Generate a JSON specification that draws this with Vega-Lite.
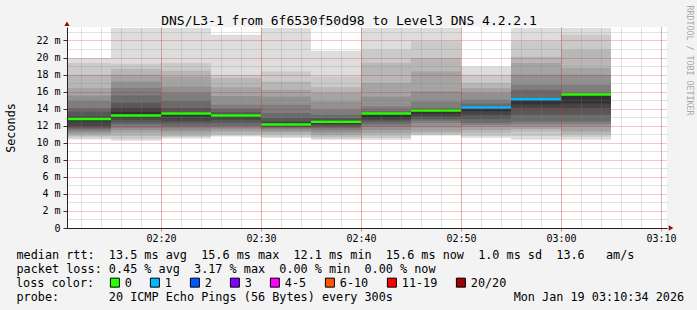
{
  "$schema": "https://vega.github.io/schema/vega-lite/v6.json",
  "width": 600,
  "height": 201,
  "autosize": {"type": "none"},
  "padding": {"left": 67, "top": 27, "right": 30, "bottom": 82},
  "background": "#f3f3f3",
  "config": {"view": {"fill": "#ffffff", "stroke": null}, "font": "DejaVu Sans Mono"},
  "datasets": {
    "smoke": [
      {"t0": "2026-01-19T02:10:00Z", "t1": "2026-01-19T02:15:00Z", "band": 1, "lo": 10.39, "hi": 19.94},
      {"t0": "2026-01-19T02:10:00Z", "t1": "2026-01-19T02:15:00Z", "band": 2, "lo": 10.6, "hi": 19.35},
      {"t0": "2026-01-19T02:10:00Z", "t1": "2026-01-19T02:15:00Z", "band": 3, "lo": 10.79, "hi": 17.98},
      {"t0": "2026-01-19T02:10:00Z", "t1": "2026-01-19T02:15:00Z", "band": 4, "lo": 11.0, "hi": 16.42},
      {"t0": "2026-01-19T02:10:00Z", "t1": "2026-01-19T02:15:00Z", "band": 5, "lo": 11.17, "hi": 15.55},
      {"t0": "2026-01-19T02:10:00Z", "t1": "2026-01-19T02:15:00Z", "band": 6, "lo": 11.4, "hi": 14.93},
      {"t0": "2026-01-19T02:10:00Z", "t1": "2026-01-19T02:15:00Z", "band": 7, "lo": 11.6, "hi": 14.07},
      {"t0": "2026-01-19T02:10:00Z", "t1": "2026-01-19T02:15:00Z", "band": 8, "lo": 11.76, "hi": 13.68},
      {"t0": "2026-01-19T02:10:00Z", "t1": "2026-01-19T02:15:00Z", "band": 9, "lo": 12.0, "hi": 13.09},
      {"t0": "2026-01-19T02:10:00Z", "t1": "2026-01-19T02:15:00Z", "band": 10, "lo": 12.5, "hi": 12.95},

      {"t0": "2026-01-19T02:15:00Z", "t1": "2026-01-19T02:20:00Z", "band": 1, "lo": 10.25, "hi": 23.45},
      {"t0": "2026-01-19T02:15:00Z", "t1": "2026-01-19T02:20:00Z", "band": 2, "lo": 10.45, "hi": 19.27},
      {"t0": "2026-01-19T02:15:00Z", "t1": "2026-01-19T02:20:00Z", "band": 3, "lo": 10.79, "hi": 18.68},
      {"t0": "2026-01-19T02:15:00Z", "t1": "2026-01-19T02:20:00Z", "band": 4, "lo": 11.17, "hi": 17.98},
      {"t0": "2026-01-19T02:15:00Z", "t1": "2026-01-19T02:20:00Z", "band": 5, "lo": 11.5, "hi": 17.19},
      {"t0": "2026-01-19T02:15:00Z", "t1": "2026-01-19T02:20:00Z", "band": 6, "lo": 11.76, "hi": 16.42},
      {"t0": "2026-01-19T02:15:00Z", "t1": "2026-01-19T02:20:00Z", "band": 7, "lo": 12.1, "hi": 15.55},
      {"t0": "2026-01-19T02:15:00Z", "t1": "2026-01-19T02:20:00Z", "band": 8, "lo": 12.34, "hi": 14.66},
      {"t0": "2026-01-19T02:15:00Z", "t1": "2026-01-19T02:20:00Z", "band": 9, "lo": 12.7, "hi": 14.07},
      {"t0": "2026-01-19T02:15:00Z", "t1": "2026-01-19T02:20:00Z", "band": 10, "lo": 12.93, "hi": 13.6},

      {"t0": "2026-01-19T02:20:00Z", "t1": "2026-01-19T02:25:00Z", "band": 1, "lo": 10.5, "hi": 23.45},
      {"t0": "2026-01-19T02:20:00Z", "t1": "2026-01-19T02:25:00Z", "band": 2, "lo": 10.65, "hi": 19.35},
      {"t0": "2026-01-19T02:20:00Z", "t1": "2026-01-19T02:25:00Z", "band": 3, "lo": 10.79, "hi": 18.44},
      {"t0": "2026-01-19T02:20:00Z", "t1": "2026-01-19T02:25:00Z", "band": 4, "lo": 11.1, "hi": 17.78},
      {"t0": "2026-01-19T02:20:00Z", "t1": "2026-01-19T02:25:00Z", "band": 5, "lo": 11.38, "hi": 16.6},
      {"t0": "2026-01-19T02:20:00Z", "t1": "2026-01-19T02:25:00Z", "band": 6, "lo": 11.7, "hi": 15.83},
      {"t0": "2026-01-19T02:20:00Z", "t1": "2026-01-19T02:25:00Z", "band": 7, "lo": 11.96, "hi": 14.93},
      {"t0": "2026-01-19T02:20:00Z", "t1": "2026-01-19T02:25:00Z", "band": 8, "lo": 12.3, "hi": 14.07},
      {"t0": "2026-01-19T02:20:00Z", "t1": "2026-01-19T02:25:00Z", "band": 9, "lo": 12.55, "hi": 13.6},
      {"t0": "2026-01-19T02:20:00Z", "t1": "2026-01-19T02:25:00Z", "band": 10, "lo": 13.1, "hi": 13.52},

      {"t0": "2026-01-19T02:25:00Z", "t1": "2026-01-19T02:30:00Z", "band": 1, "lo": 10.74, "hi": 22.67},
      {"t0": "2026-01-19T02:25:00Z", "t1": "2026-01-19T02:30:00Z", "band": 2, "lo": 10.85, "hi": 17.98},
      {"t0": "2026-01-19T02:25:00Z", "t1": "2026-01-19T02:30:00Z", "band": 3, "lo": 11.0, "hi": 17.6},
      {"t0": "2026-01-19T02:25:00Z", "t1": "2026-01-19T02:30:00Z", "band": 4, "lo": 11.3, "hi": 16.5},
      {"t0": "2026-01-19T02:25:00Z", "t1": "2026-01-19T02:30:00Z", "band": 5, "lo": 11.56, "hi": 15.5},
      {"t0": "2026-01-19T02:25:00Z", "t1": "2026-01-19T02:30:00Z", "band": 6, "lo": 11.8, "hi": 14.46},
      {"t0": "2026-01-19T02:25:00Z", "t1": "2026-01-19T02:30:00Z", "band": 7, "lo": 12.0, "hi": 14.0},
      {"t0": "2026-01-19T02:25:00Z", "t1": "2026-01-19T02:30:00Z", "band": 8, "lo": 12.35, "hi": 13.6},
      {"t0": "2026-01-19T02:25:00Z", "t1": "2026-01-19T02:30:00Z", "band": 9, "lo": 12.7, "hi": 13.35},
      {"t0": "2026-01-19T02:25:00Z", "t1": "2026-01-19T02:30:00Z", "band": 10, "lo": 12.95, "hi": 13.3},

      {"t0": "2026-01-19T02:30:00Z", "t1": "2026-01-19T02:35:00Z", "band": 1, "lo": 10.55, "hi": 23.45},
      {"t0": "2026-01-19T02:30:00Z", "t1": "2026-01-19T02:35:00Z", "band": 2, "lo": 10.7, "hi": 18.37},
      {"t0": "2026-01-19T02:30:00Z", "t1": "2026-01-19T02:35:00Z", "band": 3, "lo": 10.98, "hi": 17.2},
      {"t0": "2026-01-19T02:30:00Z", "t1": "2026-01-19T02:35:00Z", "band": 4, "lo": 11.2, "hi": 16.22},
      {"t0": "2026-01-19T02:30:00Z", "t1": "2026-01-19T02:35:00Z", "band": 5, "lo": 11.4, "hi": 15.43},
      {"t0": "2026-01-19T02:30:00Z", "t1": "2026-01-19T02:35:00Z", "band": 6, "lo": 11.6, "hi": 14.46},
      {"t0": "2026-01-19T02:30:00Z", "t1": "2026-01-19T02:35:00Z", "band": 7, "lo": 11.76, "hi": 13.49},
      {"t0": "2026-01-19T02:30:00Z", "t1": "2026-01-19T02:35:00Z", "band": 8, "lo": 11.85, "hi": 12.9},
      {"t0": "2026-01-19T02:30:00Z", "t1": "2026-01-19T02:35:00Z", "band": 9, "lo": 11.95, "hi": 12.5},
      {"t0": "2026-01-19T02:30:00Z", "t1": "2026-01-19T02:35:00Z", "band": 10, "lo": 12.05, "hi": 12.3},

      {"t0": "2026-01-19T02:35:00Z", "t1": "2026-01-19T02:40:00Z", "band": 1, "lo": 10.35, "hi": 20.79},
      {"t0": "2026-01-19T02:35:00Z", "t1": "2026-01-19T02:40:00Z", "band": 2, "lo": 10.5, "hi": 17.78},
      {"t0": "2026-01-19T02:35:00Z", "t1": "2026-01-19T02:40:00Z", "band": 3, "lo": 10.7, "hi": 16.5},
      {"t0": "2026-01-19T02:35:00Z", "t1": "2026-01-19T02:40:00Z", "band": 4, "lo": 10.94, "hi": 15.83},
      {"t0": "2026-01-19T02:35:00Z", "t1": "2026-01-19T02:40:00Z", "band": 5, "lo": 11.2, "hi": 14.85},
      {"t0": "2026-01-19T02:35:00Z", "t1": "2026-01-19T02:40:00Z", "band": 6, "lo": 11.5, "hi": 13.87},
      {"t0": "2026-01-19T02:35:00Z", "t1": "2026-01-19T02:40:00Z", "band": 7, "lo": 11.75, "hi": 13.3},
      {"t0": "2026-01-19T02:35:00Z", "t1": "2026-01-19T02:40:00Z", "band": 8, "lo": 11.92, "hi": 12.9},
      {"t0": "2026-01-19T02:35:00Z", "t1": "2026-01-19T02:40:00Z", "band": 9, "lo": 12.1, "hi": 12.7},
      {"t0": "2026-01-19T02:35:00Z", "t1": "2026-01-19T02:40:00Z", "band": 10, "lo": 12.3, "hi": 12.6},

      {"t0": "2026-01-19T02:40:00Z", "t1": "2026-01-19T02:45:00Z", "band": 1, "lo": 10.35, "hi": 23.45},
      {"t0": "2026-01-19T02:40:00Z", "t1": "2026-01-19T02:45:00Z", "band": 2, "lo": 10.55, "hi": 20.9},
      {"t0": "2026-01-19T02:40:00Z", "t1": "2026-01-19T02:45:00Z", "band": 3, "lo": 10.85, "hi": 19.35},
      {"t0": "2026-01-19T02:40:00Z", "t1": "2026-01-19T02:45:00Z", "band": 4, "lo": 11.14, "hi": 17.0},
      {"t0": "2026-01-19T02:40:00Z", "t1": "2026-01-19T02:45:00Z", "band": 5, "lo": 11.5, "hi": 15.43},
      {"t0": "2026-01-19T02:40:00Z", "t1": "2026-01-19T02:45:00Z", "band": 6, "lo": 11.92, "hi": 14.26},
      {"t0": "2026-01-19T02:40:00Z", "t1": "2026-01-19T02:45:00Z", "band": 7, "lo": 12.2, "hi": 13.76},
      {"t0": "2026-01-19T02:40:00Z", "t1": "2026-01-19T02:45:00Z", "band": 8, "lo": 12.5, "hi": 13.6},
      {"t0": "2026-01-19T02:40:00Z", "t1": "2026-01-19T02:45:00Z", "band": 9, "lo": 12.7, "hi": 13.5},
      {"t0": "2026-01-19T02:40:00Z", "t1": "2026-01-19T02:45:00Z", "band": 10, "lo": 12.9, "hi": 13.45},

      {"t0": "2026-01-19T02:45:00Z", "t1": "2026-01-19T02:50:00Z", "band": 1, "lo": 10.86, "hi": 23.45},
      {"t0": "2026-01-19T02:45:00Z", "t1": "2026-01-19T02:50:00Z", "band": 2, "lo": 10.94, "hi": 21.9},
      {"t0": "2026-01-19T02:45:00Z", "t1": "2026-01-19T02:50:00Z", "band": 3, "lo": 11.1, "hi": 19.94},
      {"t0": "2026-01-19T02:45:00Z", "t1": "2026-01-19T02:50:00Z", "band": 4, "lo": 11.33, "hi": 18.37},
      {"t0": "2026-01-19T02:45:00Z", "t1": "2026-01-19T02:50:00Z", "band": 5, "lo": 11.8, "hi": 16.0},
      {"t0": "2026-01-19T02:45:00Z", "t1": "2026-01-19T02:50:00Z", "band": 6, "lo": 12.31, "hi": 14.85},
      {"t0": "2026-01-19T02:45:00Z", "t1": "2026-01-19T02:50:00Z", "band": 7, "lo": 12.6, "hi": 14.07},
      {"t0": "2026-01-19T02:45:00Z", "t1": "2026-01-19T02:50:00Z", "band": 8, "lo": 12.8, "hi": 13.9},
      {"t0": "2026-01-19T02:45:00Z", "t1": "2026-01-19T02:50:00Z", "band": 9, "lo": 13.09, "hi": 13.85},
      {"t0": "2026-01-19T02:45:00Z", "t1": "2026-01-19T02:50:00Z", "band": 10, "lo": 13.4, "hi": 13.8},

      {"t0": "2026-01-19T02:50:00Z", "t1": "2026-01-19T02:55:00Z", "band": 1, "lo": 10.6, "hi": 18.95},
      {"t0": "2026-01-19T02:50:00Z", "t1": "2026-01-19T02:55:00Z", "band": 2, "lo": 10.8, "hi": 17.98},
      {"t0": "2026-01-19T02:50:00Z", "t1": "2026-01-19T02:55:00Z", "band": 3, "lo": 11.14, "hi": 17.0},
      {"t0": "2026-01-19T02:50:00Z", "t1": "2026-01-19T02:55:00Z", "band": 4, "lo": 11.5, "hi": 16.42},
      {"t0": "2026-01-19T02:50:00Z", "t1": "2026-01-19T02:55:00Z", "band": 5, "lo": 11.92, "hi": 15.83},
      {"t0": "2026-01-19T02:50:00Z", "t1": "2026-01-19T02:55:00Z", "band": 6, "lo": 12.1, "hi": 15.05},
      {"t0": "2026-01-19T02:50:00Z", "t1": "2026-01-19T02:55:00Z", "band": 7, "lo": 12.31, "hi": 14.6},
      {"t0": "2026-01-19T02:50:00Z", "t1": "2026-01-19T02:55:00Z", "band": 8, "lo": 12.8, "hi": 14.26},
      {"t0": "2026-01-19T02:50:00Z", "t1": "2026-01-19T02:55:00Z", "band": 9, "lo": 13.29, "hi": 14.2},
      {"t0": "2026-01-19T02:50:00Z", "t1": "2026-01-19T02:55:00Z", "band": 10, "lo": 13.7, "hi": 14.18},

      {"t0": "2026-01-19T02:55:00Z", "t1": "2026-01-19T03:00:00Z", "band": 1, "lo": 10.35, "hi": 23.45},
      {"t0": "2026-01-19T02:55:00Z", "t1": "2026-01-19T03:00:00Z", "band": 2, "lo": 10.8, "hi": 21.9},
      {"t0": "2026-01-19T02:55:00Z", "t1": "2026-01-19T03:00:00Z", "band": 3, "lo": 11.33, "hi": 20.1},
      {"t0": "2026-01-19T02:55:00Z", "t1": "2026-01-19T03:00:00Z", "band": 4, "lo": 11.6, "hi": 19.35},
      {"t0": "2026-01-19T02:55:00Z", "t1": "2026-01-19T03:00:00Z", "band": 5, "lo": 11.9, "hi": 17.98},
      {"t0": "2026-01-19T02:55:00Z", "t1": "2026-01-19T03:00:00Z", "band": 6, "lo": 12.2, "hi": 16.81},
      {"t0": "2026-01-19T02:55:00Z", "t1": "2026-01-19T03:00:00Z", "band": 7, "lo": 12.5, "hi": 16.22},
      {"t0": "2026-01-19T02:55:00Z", "t1": "2026-01-19T03:00:00Z", "band": 8, "lo": 13.3, "hi": 15.25},
      {"t0": "2026-01-19T02:55:00Z", "t1": "2026-01-19T03:00:00Z", "band": 9, "lo": 14.07, "hi": 15.15},
      {"t0": "2026-01-19T02:55:00Z", "t1": "2026-01-19T03:00:00Z", "band": 10, "lo": 14.5, "hi": 15.1},

      {"t0": "2026-01-19T03:00:00Z", "t1": "2026-01-19T03:05:00Z", "band": 1, "lo": 10.35, "hi": 23.45},
      {"t0": "2026-01-19T03:00:00Z", "t1": "2026-01-19T03:05:00Z", "band": 2, "lo": 10.7, "hi": 22.67},
      {"t0": "2026-01-19T03:00:00Z", "t1": "2026-01-19T03:05:00Z", "band": 3, "lo": 11.0, "hi": 20.9},
      {"t0": "2026-01-19T03:00:00Z", "t1": "2026-01-19T03:05:00Z", "band": 4, "lo": 11.33, "hi": 18.76},
      {"t0": "2026-01-19T03:00:00Z", "t1": "2026-01-19T03:05:00Z", "band": 5, "lo": 11.92, "hi": 17.98},
      {"t0": "2026-01-19T03:00:00Z", "t1": "2026-01-19T03:05:00Z", "band": 6, "lo": 12.2, "hi": 16.81},
      {"t0": "2026-01-19T03:00:00Z", "t1": "2026-01-19T03:05:00Z", "band": 7, "lo": 12.5, "hi": 15.83},
      {"t0": "2026-01-19T03:00:00Z", "t1": "2026-01-19T03:05:00Z", "band": 8, "lo": 13.3, "hi": 15.75},
      {"t0": "2026-01-19T03:00:00Z", "t1": "2026-01-19T03:05:00Z", "band": 9, "lo": 14.07, "hi": 15.7},
      {"t0": "2026-01-19T03:00:00Z", "t1": "2026-01-19T03:05:00Z", "band": 10, "lo": 14.6, "hi": 15.68}
    ],
    "median": [
      {"t0": "2026-01-19T02:10:00Z", "t1": "2026-01-19T02:15:00Z", "rtt": 12.78, "loss": "0"},
      {"t0": "2026-01-19T02:15:00Z", "t1": "2026-01-19T02:20:00Z", "rtt": 13.2, "loss": "0"},
      {"t0": "2026-01-19T02:20:00Z", "t1": "2026-01-19T02:25:00Z", "rtt": 13.44, "loss": "0"},
      {"t0": "2026-01-19T02:25:00Z", "t1": "2026-01-19T02:30:00Z", "rtt": 13.2, "loss": "0"},
      {"t0": "2026-01-19T02:30:00Z", "t1": "2026-01-19T02:35:00Z", "rtt": 12.15, "loss": "0"},
      {"t0": "2026-01-19T02:35:00Z", "t1": "2026-01-19T02:40:00Z", "rtt": 12.47, "loss": "0"},
      {"t0": "2026-01-19T02:40:00Z", "t1": "2026-01-19T02:45:00Z", "rtt": 13.42, "loss": "0"},
      {"t0": "2026-01-19T02:45:00Z", "t1": "2026-01-19T02:50:00Z", "rtt": 13.78, "loss": "0"},
      {"t0": "2026-01-19T02:50:00Z", "t1": "2026-01-19T02:55:00Z", "rtt": 14.14, "loss": "1"},
      {"t0": "2026-01-19T02:55:00Z", "t1": "2026-01-19T03:00:00Z", "rtt": 15.1, "loss": "1"},
      {"t0": "2026-01-19T03:00:00Z", "t1": "2026-01-19T03:05:00Z", "rtt": 15.65, "loss": "0"}
    ]
  },
  "layer": [
    {
      "data": {"name": "smoke"},
      "mark": {"type": "rect", "clip": true},
      "encoding": {
        "x": {
          "field": "t0", "type": "temporal",
          "scale": {"type": "utc", "nice": false, "domain": [1768788636000, 1768792236000]},
          "axis": {
            "orient": "top", "zindex": 1,
            "values": [1768788720000, 1768788840000, 1768788960000, 1768789080000, 1768789200000, 1768789320000, 1768789440000, 1768789560000, 1768789680000, 1768789800000, 1768789920000, 1768790040000, 1768790160000, 1768790280000, 1768790400000, 1768790520000, 1768790640000, 1768790760000, 1768790880000, 1768791000000, 1768791120000, 1768791240000, 1768791360000, 1768791480000, 1768791600000, 1768791720000, 1768791840000, 1768791960000, 1768792080000, 1768792200000],
            "grid": true, "gridColor": "#808080", "gridOpacity": 0.45, "gridDash": [1, 1], "gridWidth": 1,
            "labels": false, "ticks": false, "domain": false,
            "title": "DNS/L3-1 from 6f6530f50d98 to Level3 DNS 4.2.2.1",
            "titleFont": "DejaVu Sans Mono", "titleFontSize": 13, "titleFontWeight": "normal", "titleColor": "#000000",
            "titleX": 281.5, "titleY": -3, "titleAlign": "center", "titleBaseline": "alphabetic", "titleAngle": 0
          }
        },
        "x2": {"field": "t1"},
        "y": {
          "field": "lo", "type": "quantitative",
          "scale": {"domain": [0, 23.58], "nice": false, "zero": false},
          "axis": {
            "orient": "right", "zindex": 1,
            "values": [1, 3, 5, 7, 9, 11, 13, 15, 17, 19, 21, 23],
            "grid": true, "gridColor": "#808080", "gridOpacity": 0.45, "gridDash": [1, 1], "gridWidth": 1,
            "labels": false, "ticks": false, "domain": false,
            "title": "RRDTOOL / TOBI OETIKER",
            "titleFont": "DejaVu Sans Mono", "titleFontSize": 8.3, "titleFontWeight": "normal", "titleColor": "#a8a8a8",
            "titleX": 21, "titleY": 33, "titleAngle": 90, "titleAlign": "center", "titleBaseline": "middle"
          }
        },
        "y2": {"field": "hi"},
        "fill": {
          "field": "band", "type": "ordinal",
          "scale": {"domain": [1, 2, 3, 4, 5, 6, 7, 8, 9, 10],
            "range": ["#dddddd", "#cacaca", "#b7b7b7", "#a4a4a4", "#919191", "#7e7e7e", "#6b6b6b", "#585858", "#454545", "#323232"]},
          "legend": null
        }
      }
    },
    {
      "data": {"name": "median"},
      "mark": {"type": "rect", "clip": true, "height": 2.5},
      "encoding": {
        "x": {
          "field": "t0", "type": "temporal",
          "axis": {
            "orient": "bottom", "zindex": 1,
            "values": [1768789200000, 1768789800000, 1768790400000, 1768791000000, 1768791600000, 1768792200000],
            "labelExpr": "utcFormat(datum.value, '%H:%M')",
            "grid": true, "gridColor": "#e00000", "gridOpacity": 0.45, "gridDash": [1, 1], "gridWidth": 1,
            "domain": true, "domainColor": "#222222", "domainWidth": 1,
            "ticks": true, "tickSize": 3, "tickColor": "#e08080",
            "labels": true, "labelFont": "DejaVu Sans Mono", "labelFontSize": 10, "labelColor": "#000000", "labelPadding": 2.5,
            "labelFlush": false, "labelOverlap": false,
            "title": [
              "median\u00a0rtt:\u00a0\u00a013.5\u00a0ms\u00a0avg\u00a0\u00a015.6\u00a0ms\u00a0max\u00a0\u00a012.1\u00a0ms\u00a0min\u00a0\u00a015.6\u00a0ms\u00a0now\u00a0\u00a01.0\u00a0ms\u00a0sd\u00a0\u00a013.6\u00a0\u00a0\u00a0am/s",
              "packet\u00a0loss:\u00a00.45\u00a0%\u00a0avg\u00a0\u00a03.17\u00a0%\u00a0max\u00a0\u00a00.00\u00a0%\u00a0min\u00a0\u00a00.00\u00a0%\u00a0now"
            ],
            "titleFont": "DejaVu Sans Mono", "titleFontSize": 11.8, "titleFontWeight": "normal", "titleColor": "#000000",
            "titleX": -51, "titleY": 30.6, "titleAlign": "left", "titleAnchor": "start", "titleBaseline": "alphabetic", "titleLineHeight": 14
          }
        },
        "x2": {"field": "t1"},
        "y": {
          "field": "rtt", "type": "quantitative",
          "axis": {
            "orient": "left", "zindex": 1,
            "values": [0, 2, 4, 6, 8, 10, 12, 14, 16, 18, 20, 22],
            "labelExpr": "datum.value == 0 ? '0' : datum.value + ' m'",
            "grid": true, "gridColor": "#e00000", "gridOpacity": 0.45, "gridDash": [1, 1], "gridWidth": 1,
            "domain": true, "domainColor": "#222222", "domainWidth": 1,
            "ticks": true, "tickSize": 4, "tickColor": "#333333",
            "labelFont": "DejaVu Sans Mono", "labelFontSize": 10, "labelColor": "#000000", "labelPadding": 3,
            "labelFlush": false, "labelOverlap": false,
            "title": "Seconds",
            "titleFont": "DejaVu Sans Mono", "titleFontSize": 11.8, "titleFontWeight": "normal", "titleColor": "#000000",
            "titleX": -57, "titleY": 100.5, "titleAngle": -90, "titleAlign": "center", "titleBaseline": "middle"
          }
        },
        "color": {
          "field": "loss", "type": "nominal",
          "scale": {"domain": ["0", "1", "2", "3", "4-5", "6-10", "11-19", "20/20"],
            "range": ["#26ff00", "#00b8ff", "#0059ff", "#7e00ff", "#ff00ff", "#ff5500", "#ff0000", "#a10000"]},
          "legend": {
            "orient": "none", "legendX": -51, "legendY": 249.6,
            "direction": "horizontal", "columns": 8,
            "title": "loss\u00a0color:", "titleOrient": "left",
            "titleFont": "DejaVu Sans Mono", "titleFontSize": 11.8, "titleFontWeight": "normal", "titleColor": "#000000", "titlePadding": 14,
            "symbolType": "square", "symbolSize": 81, "symbolStrokeWidth": 1, "symbolStrokeColor": "#000000", "symbolOpacity": 1,
            "labelFont": "DejaVu Sans Mono", "labelFontSize": 11.8, "labelColor": "#000000", "labelOffset": 4,
            "columnPadding": 16, "padding": 0
          }
        }
      }
    },
    {
      "data": {"values": [{}]},
      "mark": {"type": "point", "shape": "triangle-right", "filled": true, "color": "#8b1010", "size": 28, "opacity": 1},
      "encoding": {
        "x": {
          "datum": {"year": 2026, "month": 1, "date": 19, "hours": 3, "minutes": 11, "seconds": 0, "utc": true},
          "type": "temporal",
          "axis": {
            "orient": "bottom", "grid": false, "labels": false, "ticks": false, "domain": false,
            "title": "probe:\u00a0\u00a0\u00a0\u00a0\u00a0\u00a0\u00a020\u00a0ICMP\u00a0Echo\u00a0Pings\u00a0(56\u00a0Bytes)\u00a0every\u00a0300s\u00a0\u00a0\u00a0\u00a0\u00a0\u00a0\u00a0\u00a0\u00a0\u00a0\u00a0\u00a0\u00a0\u00a0\u00a0\u00a0\u00a0Mon\u00a0Jan\u00a019\u00a003:10:34\u00a02026",
            "titleFont": "DejaVu Sans Mono", "titleFontSize": 11.8, "titleFontWeight": "normal", "titleColor": "#000000",
            "titleX": -51, "titleY": 72.3, "titleAlign": "left", "titleAnchor": "start", "titleBaseline": "alphabetic"
          }
        },
        "y": {"datum": 0, "type": "quantitative", "axis": null}
      }
    },
    {
      "data": {"values": [{}]},
      "mark": {"type": "point", "shape": "triangle-up", "filled": true, "color": "#8b1010", "size": 28, "opacity": 1},
      "encoding": {
        "x": {
          "datum": {"year": 2026, "month": 1, "date": 19, "hours": 2, "minutes": 10, "seconds": 36, "utc": true},
          "type": "temporal", "axis": null
        },
        "y": {"datum": 23.97, "type": "quantitative", "axis": null}
      }
    }
  ],
  "resolve": {"axis": {"x": "independent", "y": "independent"}}
}
